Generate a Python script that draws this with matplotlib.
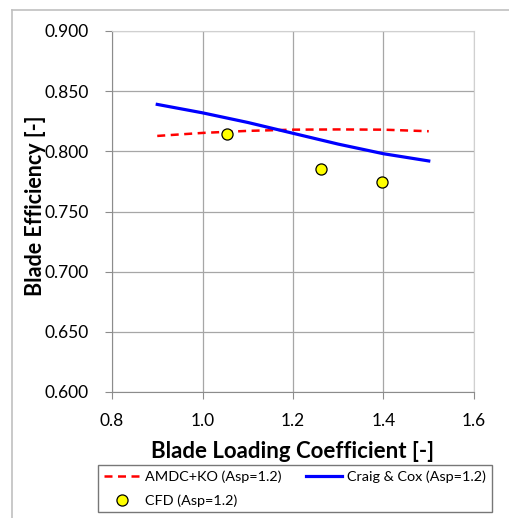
import matplotlib.pyplot as plt
from matplotlib.lines import Line2D

# data
x_amdc = [0.90, 1.00, 1.10, 1.20, 1.30, 1.40, 1.50]
y_amdc = [0.8128, 0.8153, 0.8170, 0.8180, 0.8182, 0.8180, 0.8167]

x_craig = [0.90, 1.00, 1.10, 1.20, 1.30, 1.40, 1.50]
y_craig = [0.839, 0.832, 0.824, 0.815, 0.806, 0.798, 0.792]

x_cfd = [1.055, 1.262, 1.397]
y_cfd = [0.8148, 0.7857, 0.7746]

xticks = [0.8, 1.0, 1.2, 1.4, 1.6]
yticks = [0.600, 0.650, 0.700, 0.750, 0.800, 0.850, 0.900]

plt.rcParams['font.family'] = ['Lato', 'DejaVu Sans']

fig = plt.figure(figsize=(5.10, 5.18), dpi=100)
# outer chart border (only top and left visible in the crop)
fig.add_artist(Line2D([12/510, 1.0], [1 - 10/518, 1 - 10/518], transform=fig.transFigure,
                      color='#c0c0c0', lw=1.2))
fig.add_artist(Line2D([12/510, 12/510], [0.0, 1 - 10/518], transform=fig.transFigure,
                      color='#c0c0c0', lw=1.2))

ax = fig.add_axes([112/510, 126/518, 362/510, 361/518])

l1, = ax.plot(x_amdc, y_amdc, color='red', lw=1.8, ls=(0, (3.2, 2.2)), label='AMDC+KO (Asp=1.2)')
l2, = ax.plot(x_craig, y_craig, color='blue', lw=2.3, label='Craig & Cox (Asp=1.2)')
l3, = ax.plot(x_cfd, y_cfd, ls='none', marker='o', ms=8, mfc='yellow', mec='black', mew=0.9,
              label='CFD (Asp=1.2)')

ax.set_xlim(0.8, 1.6)
ax.set_ylim(0.6, 0.9)
ax.set_xticks(xticks)
ax.set_xticklabels(['%.1f' % v for v in xticks])
ax.set_yticks(yticks)
ax.set_yticklabels(['%.3f' % v for v in yticks])
ax.grid(True, color='#a6a6a6', lw=0.9)
ax.set_axisbelow(True)
for side in ['top', 'right']:
    ax.spines[side].set_color('#d0d0d0')
for side in ['left', 'bottom']:
    ax.spines[side].set_color('#8c8c8c')
ax.tick_params(axis='both', labelsize=12.5, length=5, color='#8c8c8c')
ax.tick_params(axis='y', pad=12)
ax.tick_params(axis='x', pad=10)

ax.set_xlabel('Blade Loading Coefficient [-]', fontsize=16, fontweight='bold', labelpad=9)
ax.set_ylabel('Blade Efficiency [-]', fontsize=15.5, fontweight='bold')
ax.yaxis.set_label_coords(-0.183, 0.515)

# column-major fill: put CFD second so it lands under AMDC
leg = fig.legend([l1, l3, l2], [l1.get_label(), l3.get_label(), l2.get_label()],
                 loc='upper left', bbox_to_anchor=(98/510, 1 - 465/518),
                 ncol=2, fontsize=10.4, frameon=True, fancybox=False,
                 handlelength=2.5, handletextpad=0.35, borderpad=0.4,
                 labelspacing=0.75, columnspacing=1.7, borderaxespad=0)
leg.get_frame().set_edgecolor('#555555')
leg.get_frame().set_linewidth(1.0)

fig.savefig('out.png', dpi=100)
